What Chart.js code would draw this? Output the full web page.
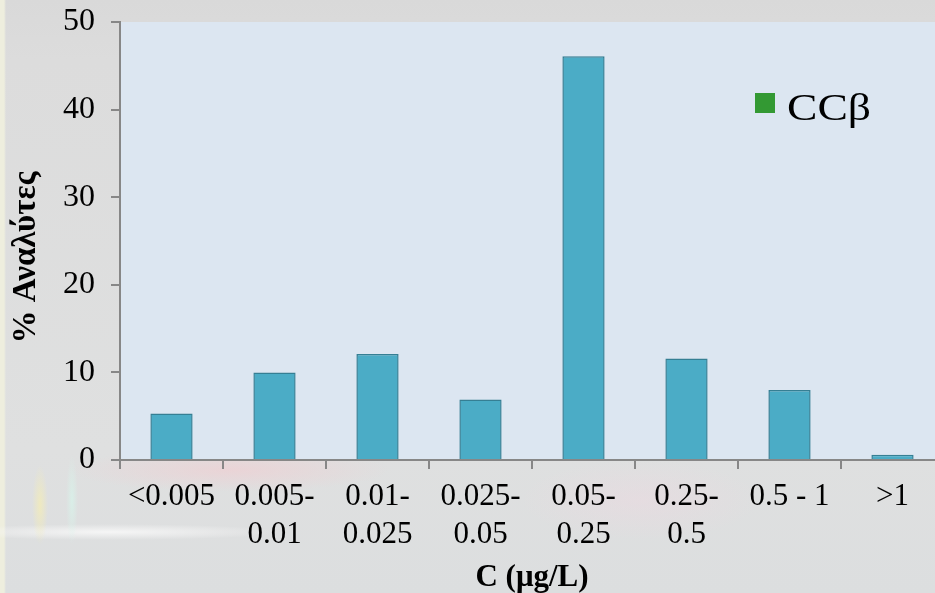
<!DOCTYPE html>
<html>
<head>
<meta charset="utf-8">
<script src="https://cdn.jsdelivr.net/npm/chart.js@4/dist/chart.umd.min.js"></script>
<style>
  html, body { margin: 0; padding: 0; }
  body { width: 935px; height: 593px; overflow: hidden; }
  #wrap {
    position: relative; width: 935px; height: 593px; overflow: hidden;
    background:
      radial-gradient(ellipse 160px 22px at 230px 470px, rgba(245,200,205,0.5), rgba(245,200,205,0) 100%),
      radial-gradient(ellipse 8px 40px at 40px 505px, rgba(250,240,170,0.6), rgba(250,240,170,0) 100%),
      radial-gradient(ellipse 6px 45px at 72px 500px, rgba(215,245,235,0.7), rgba(215,245,235,0) 100%),
      radial-gradient(ellipse 170px 8px at 110px 532px, rgba(248,248,248,0.9), rgba(248,248,248,0) 100%),
      radial-gradient(ellipse 120px 40px at 640px 500px, rgba(240,215,225,0.4), rgba(240,215,225,0) 100%),
      linear-gradient(to right, #eeeede 0px, #eeeede 4px, rgba(0,0,0,0) 6px),
      linear-gradient(to bottom, #d9d9d9 0px, #dcdcdc 60px, #dfe0e0 450px, #dcdedf 593px);
  }
  #box { position: absolute; left: 0; top: 0; width: 944px; height: 593px; }
</style>
</head>
<body>
<div id="wrap"><div id="box"><canvas id="c"></canvas></div></div>
<script>
// Concentration ranges (µg/L) and share of analytes in each range
const categories = [
  ['<0.005'], ['0.005-', '0.01'], ['0.01-', '0.025'], ['0.025-', '0.05'],
  ['0.05-', '0.25'], ['0.25-', '0.5'], ['0.5 - 1'], ['>1']
];
const percentAnalytes = [5.3, 10.0, 12.1, 6.9, 46.1, 11.6, 8.0, 0.6];
const yTicks = [0, 10, 20, 30, 40, 50];
const legendLabel = 'CCβ';

const serif = '"Liberation Serif", "Times New Roman", serif';

// Light-blue plot background
const plotBackground = {
  id: 'plotBackground',
  beforeDraw(chart) {
    const { ctx, chartArea: a } = chart;
    ctx.save();
    ctx.fillStyle = '#dce6f1';
    ctx.fillRect(a.left, a.top, a.right - a.left, a.bottom - a.top);
    ctx.restore();
  }
};

// Legend key drawn inside the plot, upper right
const insideLegend = {
  id: 'insideLegend',
  afterDraw(chart) {
    const { ctx, chartArea: a } = chart;
    const x = a.left + 635, y = a.top + 71;
    ctx.save();
    ctx.fillStyle = '#339933';
    ctx.fillRect(x, y, 20, 20);
    ctx.fillStyle = '#000';
    ctx.font = '38px ' + serif;
    ctx.textBaseline = 'alphabetic';
    ctx.translate(x + 32, y + 27);
    ctx.scale(1.2, 1);
    ctx.fillText(legendLabel, 0, 0);
    ctx.restore();
  }
};

new Chart(document.getElementById('c'), {
  type: 'bar',
  data: {
    labels: categories,
    datasets: [{
      label: legendLabel,
      data: percentAnalytes,
      backgroundColor: '#4bacc6',
      borderColor: '#357f94',
      borderWidth: 1.5,
      categoryPercentage: 1,
      barPercentage: 0.41
    }]
  },
  options: {
    responsive: true,
    maintainAspectRatio: false,
    animation: false,
    devicePixelRatio: 1,
    layout: { padding: { top: 22, right: 0, left: 0, bottom: 0 } },
    plugins: { legend: { display: false }, tooltip: { enabled: false } },
    scales: {
      x: {
        offset: true,
        border: { color: '#878787', width: 2 },
        grid: { drawOnChartArea: false, drawTicks: true, tickLength: 9, color: '#878787', lineWidth: 2, offset: true },
        ticks: { color: '#000', font: { family: serif, size: 31, lineHeight: 1.23 }, padding: 9, maxRotation: 0, autoSkip: false },
        title: { display: true, text: 'C (μg/L)', color: '#000', font: { family: serif, size: 31, weight: 'bold', lineHeight: 1 }, padding: { top: 0, bottom: 0 } },
        afterFit(s) { s.height = 133; s.paddingLeft = 0; s.paddingRight = 0; }
      },
      y: {
        min: 0, max: 50,
        border: { color: '#878787', width: 2 },
        grid: { drawOnChartArea: false, drawTicks: true, tickLength: 9, color: '#878787', lineWidth: 2 },
        afterBuildTicks(s) { s.ticks = yTicks.map(v => ({ value: v })); },
        ticks: { color: '#000', font: { family: serif, size: 32 }, padding: 16 },
        title: { display: true, text: '% Αναλύτες\u00a0\u00a0\u00a0\u00a0', color: '#000', font: { family: serif, size: 33, weight: 'bold', lineHeight: 1 }, padding: { top: 10 } },
        afterFit(s) { s.width = 120; s.paddingTop = 0; s.paddingBottom = 0; }
      }
    }
  },
  plugins: [plotBackground, insideLegend]
});
</script>
</body>
</html>
